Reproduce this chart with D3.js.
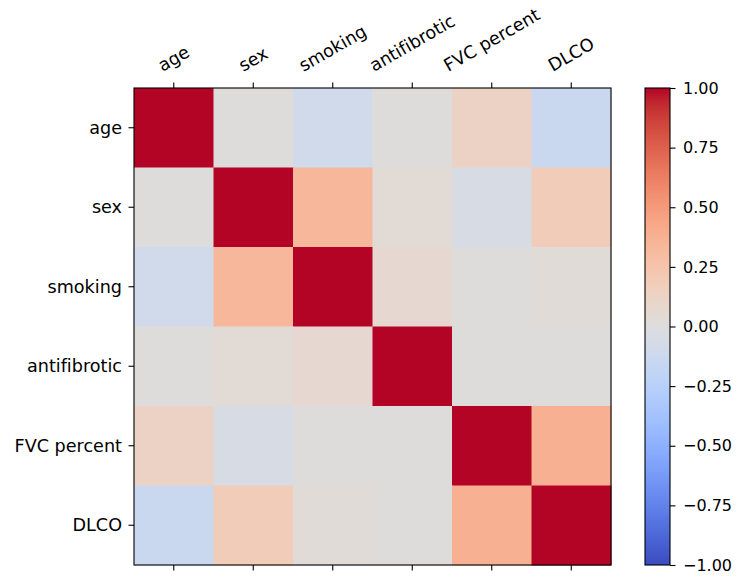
<!DOCTYPE html>
<html>
<head>
<meta charset="utf-8">
<script src="https://cdn.jsdelivr.net/npm/d3@7"></script>
<style>
  body { margin: 0; background: #fff; }
  svg { display: block; }
  text { font-family: "DejaVu Sans", sans-serif; fill: #000; font-variant-ligatures: none; font-feature-settings: "liga" 0; }
</style>
</head>
<body>
<svg id="chart" width="736" height="578"></svg>
<script>
// variables, same order on both axes
const labels = ["age", "sex", "smoking", "antifibrotic", "FVC percent", "DLCO"];

// correlation matrix, rows in label order
const corrAge         = [1.00,  0.01, -0.09,  0.01,  0.13, -0.14];
const corrSex         = [0.01,  1.00,  0.34,  0.04, -0.05,  0.19];
const corrSmoking     = [-0.09, 0.34,  1.00,  0.07,  0.01,  0.03];
const corrAntifibrotic= [0.01,  0.04,  0.07,  1.00,  0.01,  0.01];
const corrFVC         = [0.13, -0.05,  0.01,  0.01,  1.00,  0.38];
const corrDLCO        = [-0.14, 0.19,  0.03,  0.01,  0.38,  1.00];
const matrix = [corrAge, corrSex, corrSmoking, corrAntifibrotic, corrFVC, corrDLCO];

const cbarTicks = [-1, -0.75, -0.5, -0.25, 0, 0.25, 0.5, 0.75, 1];

// matplotlib "coolwarm" (Moreland), 33 evenly spaced anchors
const coolwarmStops = [
  [59,76,192],[68,90,204],[77,104,215],[87,117,225],[98,130,234],[108,142,241],
  [119,154,247],[130,165,251],[141,176,254],[152,185,255],[163,194,255],[174,201,253],
  [184,208,249],[194,213,244],[204,217,238],[213,219,230],[221,221,221],[229,216,209],
  [236,211,197],[241,204,184],[245,196,172],[247,187,159],[247,177,147],[247,166,134],
  [244,154,123],[241,141,111],[236,127,99],[229,112,88],[222,96,77],[213,80,66],
  [203,62,56],[192,40,47],[180,4,38]
];
const coolwarm = d3.piecewise(d3.interpolateRgb, coolwarmStops.map(c => d3.rgb(c[0], c[1], c[2])));

const cfg = {
  left: 134, top: 88, size: 477,
  cbarX: 645, cbarW: 25,
  tick: 5.5, pad: 5.5, labelSize: 17.6, tickSize: 16
};

const svg = d3.select("#chart");
const color = d3.scaleSequential(coolwarm).domain([-1, 1]);

const x = d3.scaleBand().domain(labels).range([cfg.left, cfg.left + cfg.size]);
const y = d3.scaleBand().domain(labels).range([cfg.top, cfg.top + cfg.size]);

// cells
const cells = [];
matrix.forEach((row, i) => row.forEach((v, j) => cells.push({ r: labels[i], c: labels[j], v })));

svg.append("g")
  .selectAll("rect")
  .data(cells)
  .join("rect")
  .attr("x", d => x(d.c))
  .attr("y", d => y(d.r))
  .attr("width", x.bandwidth() + 0.5)
  .attr("height", y.bandwidth() + 0.5)
  .attr("fill", d => color(d.v));

// frame
svg.append("rect")
  .attr("x", cfg.left).attr("y", cfg.top)
  .attr("width", cfg.size).attr("height", cfg.size)
  .attr("fill", "none").attr("stroke", "#000").attr("stroke-width", 1.1);

// ticks: top, bottom, left
const tickG = svg.append("g").attr("stroke", "#000").attr("stroke-width", 1.1);
labels.forEach(l => {
  const cx = x(l) + x.bandwidth() / 2;
  const cy = y(l) + y.bandwidth() / 2;
  tickG.append("line").attr("x1", cx).attr("x2", cx)
    .attr("y1", cfg.top).attr("y2", cfg.top - cfg.tick);
  tickG.append("line").attr("x1", cx).attr("x2", cx)
    .attr("y1", cfg.top + cfg.size).attr("y2", cfg.top + cfg.size + cfg.tick);
  tickG.append("line").attr("x1", cfg.left).attr("x2", cfg.left - cfg.tick)
    .attr("y1", cy).attr("y2", cy);
});

// left labels
svg.append("g")
  .selectAll("text")
  .data(labels)
  .join("text")
  .attr("x", cfg.left - cfg.tick - cfg.pad - 1)
  .attr("y", d => y(d) + y.bandwidth() / 2)
  .attr("text-anchor", "end")
  .attr("dominant-baseline", "central")
  .attr("font-size", cfg.labelSize)
  .text(d => d);

// top labels, rotated 30deg, bbox centred on tick (matplotlib ha=center)
const ang = 30 * Math.PI / 180;
const topBottom = cfg.top - cfg.tick - cfg.pad - 4;
svg.append("g")
  .selectAll("text")
  .data(labels)
  .join("text")
  .attr("text-anchor", "middle")
  .attr("dominant-baseline", "central")
  .attr("font-size", cfg.labelSize)
  .text(d => d)
  .each(function(d) {
    const w = this.getComputedTextLength();
    const h = cfg.labelSize * 0.8;
    const H = w * Math.sin(ang) + h * Math.cos(ang);
    const cx = x(d) + x.bandwidth() / 2;
    const cy = topBottom - H / 2;
    d3.select(this).attr("transform", `translate(${cx},${cy}) rotate(-30)`);
  });

// colorbar
const cbarScale = d3.scaleLinear().domain([-1, 1]).range([cfg.top + cfg.size, cfg.top]);
const grad = svg.append("defs").append("linearGradient")
  .attr("id", "cbar-grad")
  .attr("x1", 0).attr("y1", 1).attr("x2", 0).attr("y2", 0);
d3.range(0, 1.0001, 1 / 64).forEach(t => {
  grad.append("stop").attr("offset", t).attr("stop-color", coolwarm(t));
});
svg.append("rect")
  .attr("x", cfg.cbarX).attr("y", cbarScale(1))
  .attr("width", cfg.cbarW).attr("height", cbarScale(-1) - cbarScale(1))
  .attr("fill", "url(#cbar-grad)")
  .attr("stroke", "#000").attr("stroke-width", 1.1);

const cbarAxis = d3.axisRight(cbarScale)
  .tickValues(cbarTicks)
  .tickSize(cfg.tick)
  .tickPadding(cfg.pad + 2)
  .tickFormat(d => d3.format(".2f")(d).replace("-", "\u2212"));

const cbarG = svg.append("g")
  .attr("transform", `translate(${cfg.cbarX + cfg.cbarW},0)`)
  .call(cbarAxis);
cbarG.select(".domain").remove();
cbarG.selectAll("line").attr("stroke", "#000").attr("stroke-width", 1.1);
cbarG.selectAll("text")
  .attr("font-size", cfg.tickSize)
  .attr("font-family", "DejaVu Sans, sans-serif")
  .attr("fill", "#000");
</script>
</body>
</html>
